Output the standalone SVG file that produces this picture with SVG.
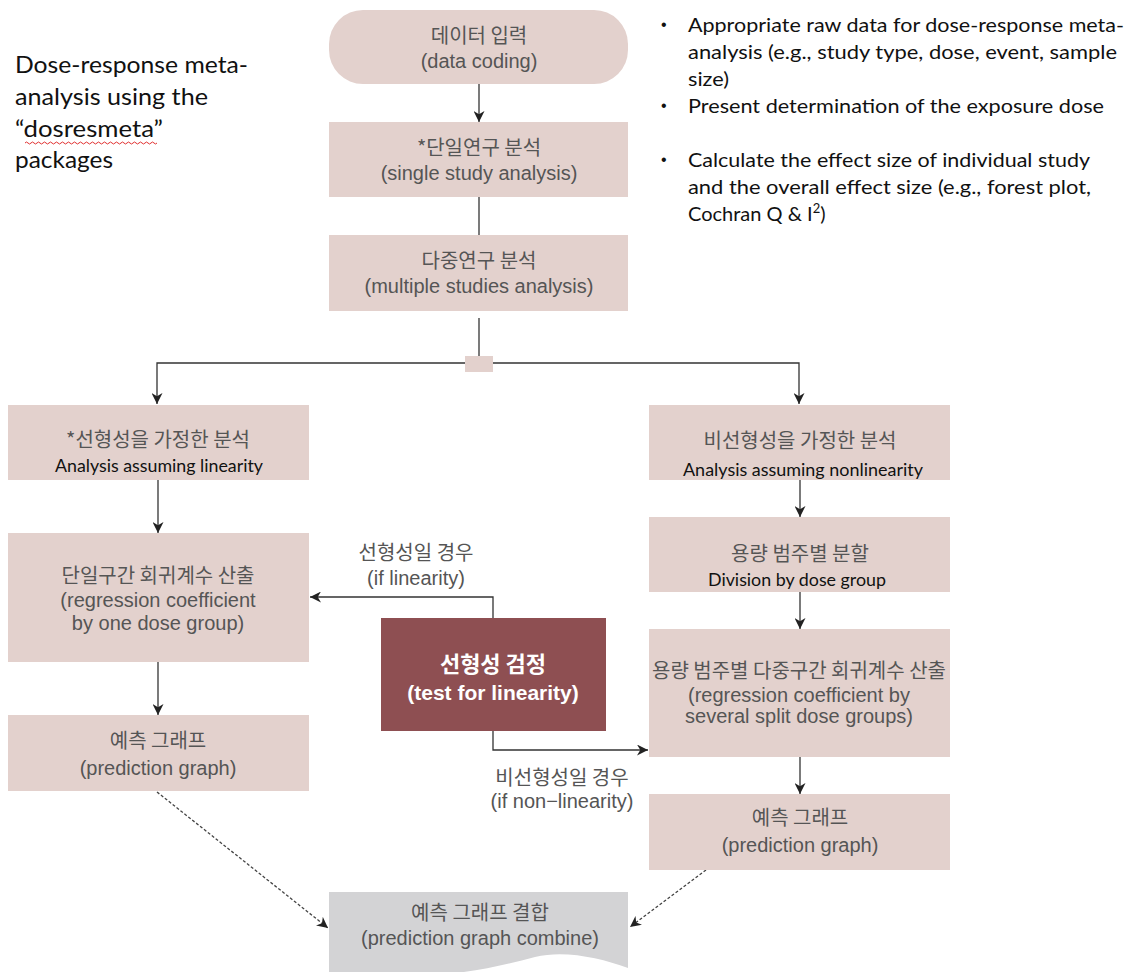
<svg xmlns="http://www.w3.org/2000/svg" width="1134" height="972" viewBox="0 0 1134 972">
<defs>
<style>
.box{fill:#e3d1cd}
.ko{font-family:"Noto Sans CJK KR","Noto Sans CJK SC",sans-serif;font-size:20px;fill:#555;text-anchor:middle}
.en{font-family:"Liberation Sans",Arial,sans-serif;font-size:20px;fill:#555;text-anchor:middle}
.cal{font-family:Lato,"Liberation Sans",sans-serif;fill:#111}
.calc{font-family:Lato,"Liberation Sans",sans-serif;font-size:17px;fill:#111;text-anchor:middle}
.ln{fill:none;stroke:#333;stroke-width:1.3}
.dash{fill:none;stroke:#444;stroke-width:1.3;stroke-dasharray:3 2}
.wt{font-family:"Liberation Sans",Arial,sans-serif;font-size:21px;font-weight:bold;fill:#fff;text-anchor:middle}
.wk{font-family:"Noto Sans CJK KR",sans-serif;font-size:22px;font-weight:bold;fill:#fff;text-anchor:middle}
.bul{font-family:"Liberation Sans",sans-serif;font-size:16px;fill:#111}
</style>
<marker id="ah" viewBox="0 0 10 10" refX="10" refY="5" markerWidth="11" markerHeight="11" markerUnits="userSpaceOnUse" orient="auto">
<path d="M0,0 L10,5 L0,10 L3,5 Z" fill="#222"/>
</marker>
</defs>
<rect width="1134" height="972" fill="#fff"/>

<g id="title">
<text class="cal" font-size="24" x="15" y="73" textLength="233" lengthAdjust="spacingAndGlyphs">Dose-response meta-</text>
<text class="cal" font-size="24" x="15" y="105" textLength="193" lengthAdjust="spacingAndGlyphs">analysis using the</text>
<text class="cal" font-size="24" x="15" y="137" textLength="148" lengthAdjust="spacingAndGlyphs">“dosresmeta”</text>
<text class="cal" font-size="24" x="15" y="168" textLength="98" lengthAdjust="spacingAndGlyphs">packages</text>
<path d="M25,143 q1.5,-2 3,0 t3,0 t3,0 t3,0 t3,0 t3,0 t3,0 t3,0 t3,0 t3,0 t3,0 t3,0 t3,0 t3,0 t3,0 t3,0 t3,0 t3,0 t3,0 t3,0 t3,0 t3,0 t3,0 t3,0 t3,0 t3,0 t3,0 t3,0 t3,0 t3,0 t3,0 t3,0 t3,0 t3,0 t3,0 t3,0 t3,0 t3,0 t3,0 t3,0 t3,0 t3,0 t3,0 t3,0" fill="none" stroke="#e03030" stroke-width="1"/>
</g>

<g id="notes">
<text class="bul" x="661" y="30">•</text>
<text class="cal" font-size="20" x="688" y="32" textLength="436" lengthAdjust="spacingAndGlyphs">Appropriate raw data for dose-response meta-</text>
<text class="cal" font-size="20" x="688" y="59" textLength="429" lengthAdjust="spacingAndGlyphs">analysis (e.g., study type, dose, event, sample</text>
<text class="cal" font-size="20" x="688" y="86" textLength="41" lengthAdjust="spacingAndGlyphs">size)</text>
<text class="bul" x="661" y="111">•</text>
<text class="cal" font-size="20" x="688" y="113" textLength="416" lengthAdjust="spacingAndGlyphs">Present determination of the exposure dose</text>
<text class="bul" x="661" y="165">•</text>
<text class="cal" font-size="20" x="688" y="167" textLength="402" lengthAdjust="spacingAndGlyphs">Calculate the effect size of individual study</text>
<text class="cal" font-size="20" x="688" y="194" textLength="403" lengthAdjust="spacingAndGlyphs">and the overall effect size (e.g., forest plot,</text>
<text class="cal" font-size="20" x="688" y="221">Cochran Q &amp; I<tspan dy="-8" font-size="13">2</tspan><tspan dy="8">)</tspan></text>
</g>

<g id="connectors">
<line class="ln" x1="479" y1="84" x2="479" y2="122" marker-end="url(#ah)"/>
<line class="ln" x1="479" y1="197" x2="479" y2="235"/>
<line class="ln" x1="479" y1="318" x2="479" y2="357"/>
<path class="ln" d="M466,363 H157 V404" marker-end="url(#ah)"/>
<path class="ln" d="M492,363 H799 V404" marker-end="url(#ah)"/>
<line class="ln" x1="158" y1="480" x2="158" y2="533" marker-end="url(#ah)"/>
<line class="ln" x1="158" y1="662" x2="158" y2="715" marker-end="url(#ah)"/>
<line class="ln" x1="800" y1="480" x2="800" y2="517" marker-end="url(#ah)"/>
<line class="ln" x1="800" y1="592" x2="800" y2="629" marker-end="url(#ah)"/>
<line class="ln" x1="800" y1="757" x2="800" y2="794" marker-end="url(#ah)"/>
<path class="ln" d="M493,618 V597 H310" marker-end="url(#ah)"/>
<path class="ln" d="M493,731 V750 H648" marker-end="url(#ah)"/>
<line class="dash" x1="157" y1="792" x2="328" y2="928" marker-end="url(#ah)"/>
<line class="dash" x1="706" y1="870" x2="630" y2="927" marker-end="url(#ah)"/>
</g>

<g id="data-coding">
<rect class="box" x="329" y="10" width="299" height="74" rx="34" ry="34"/>
<text class="ko" x="479" y="43">데이터 입력</text>
<text class="en" x="479" y="68">(data coding)</text>
</g>

<g id="single-study">
<rect class="box" x="329" y="122" width="299" height="75"/>
<text class="ko" x="479" y="155">*단일연구 분석</text>
<text class="en" x="479" y="180">(single study analysis)</text>
</g>

<g id="multiple-studies">
<rect class="box" x="329" y="235" width="299" height="76"/>
<text class="ko" x="479" y="268">다중연구 분석</text>
<text class="en" x="479" y="293">(multiple studies analysis)</text>
</g>

<g id="junction">
<rect class="box" x="465" y="356" width="28" height="16"/>
</g>

<g id="linear-analysis">
<rect class="box" x="8" y="405" width="301" height="75"/>
<text class="ko" x="158" y="447">*선형성을 가정한 분석</text>
<text class="calc" x="159" y="472" textLength="208" lengthAdjust="spacingAndGlyphs">Analysis assuming linearity</text>
</g>

<g id="single-regression">
<rect class="box" x="8" y="533" width="301" height="129"/>
<text class="ko" x="158" y="583">단일구간 회귀계수 산출</text>
<text class="en" x="158" y="607">(regression coefficient</text>
<text class="en" x="158" y="630">by one dose group)</text>
</g>

<g id="prediction-left">
<rect class="box" x="8" y="715" width="301" height="76"/>
<text class="ko" x="158" y="748">예측 그래프</text>
<text class="en" x="158" y="775">(prediction graph)</text>
</g>

<g id="test-linearity">
<rect x="381" y="618" width="225" height="113" fill="#8e4f52"/>
<text class="wk" x="493" y="672">선형성 검정</text>
<text class="wt" x="493" y="700">(test for linearity)</text>
</g>

<g id="label-linear">
<text class="ko" x="416" y="560">선형성일 경우</text>
<text class="en" x="416" y="585">(if linearity)</text>
</g>

<g id="label-nonlinear">
<text class="ko" x="562" y="785">비선형성일 경우</text>
<text class="en" x="562" y="808">(if non−linearity)</text>
</g>

<g id="nonlinear-analysis">
<rect class="box" x="649" y="405" width="301" height="75"/>
<text class="ko" x="800" y="448">비선형성을 가정한 분석</text>
<text class="calc" x="803" y="476" textLength="240" lengthAdjust="spacingAndGlyphs">Analysis assuming nonlinearity</text>
</g>

<g id="division">
<rect class="box" x="649" y="517" width="301" height="75"/>
<text class="ko" x="800" y="561">용량 범주별 분할</text>
<text class="calc" x="797" y="586" textLength="178" lengthAdjust="spacingAndGlyphs">Division by dose group</text>
</g>

<g id="multi-regression">
<rect class="box" x="649" y="629" width="301" height="128"/>
<text class="ko" x="799" y="678">용량 범주별 다중구간 회귀계수 산출</text>
<text class="en" x="799" y="702">(regression coefficient by</text>
<text class="en" x="799" y="723">several split dose groups)</text>
</g>

<g id="prediction-right">
<rect class="box" x="649" y="794" width="301" height="76"/>
<text class="ko" x="800" y="825">예측 그래프</text>
<text class="en" x="800" y="852">(prediction graph)</text>
</g>

<g id="combine">
<path d="M329,892 H628 V968 C600,958 565,950 535,957 C500,966 460,976 420,974 L329,974 Z" fill="#d3d3d5"/>
<text class="ko" x="480" y="920">예측 그래프 결합</text>
<text class="en" x="480" y="945">(prediction graph combine)</text>
</g>
</svg>
